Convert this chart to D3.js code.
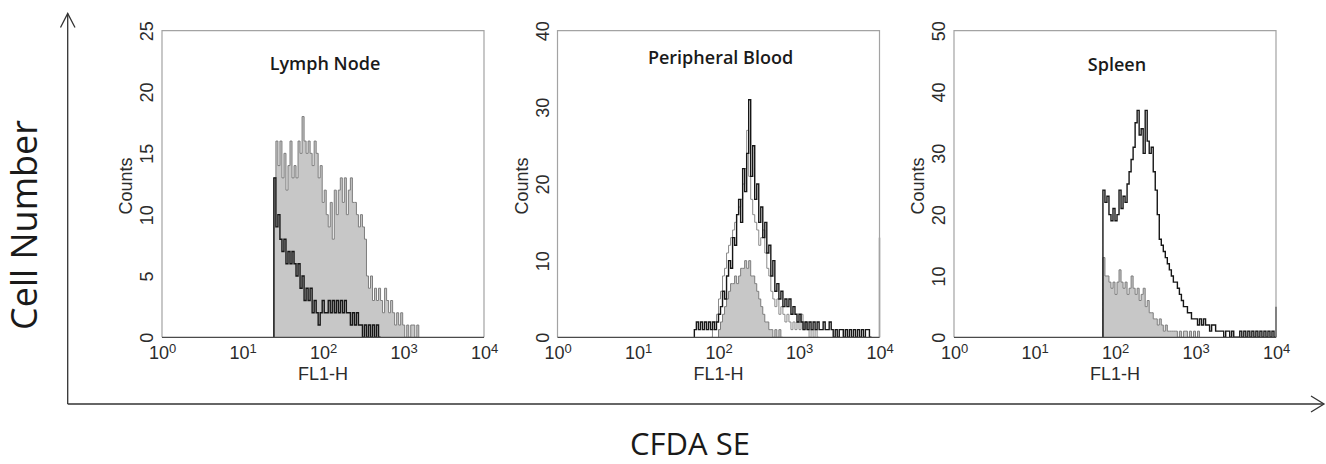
<!DOCTYPE html>
<html>
<head>
<meta charset="utf-8">
<script src="https://cdnjs.cloudflare.com/ajax/libs/d3/7.8.5/d3.min.js"></script>
<style>
    body { margin: 0; background: #fff; }
    svg { display: block; }
    .tick text, .axis-label { font-family: "Liberation Sans", Arial, sans-serif; fill: #2b2b2b; }
    .panel-title, .outer-label { font-family: "Open Sans", sans-serif; fill: #1a1a1a; }
</style>
</head>
<body>
<div id="chart"></div>
<script>
// histogram resolution (bins per decade of FL1-H)
const binsPerDecade = 40;

const panelTitles = ["Lymph Node", "Peripheral Blood", "Spleen"];
const yMaxes = [25, 40, 50];
const yTicksLN = [0, 5, 10, 15, 20, 25];
const yTicksPB = [0, 10, 20, 30, 40];
const yTicksSP = [0, 10, 20, 30, 40, 50];
const xTicks = [1, 10, 100, 1000, 10000];

// every series = log10 of its first bin edge + counts per bin
const lnGreyStart = 1.39;
const lnGrey = [13,16,14,16,13, 15,12,14,16,13, 14,13,16,15, 18, 16,15,16,15,14,16,15,
    13,14,11,12,10, 9,11,8,12,10, 12,13,11,13,10,12,13,11, 11,10,9,10,9, 8,5,4,5,3,4,
    3,4,3,2,4,3, 2,3,2,1,2,1, 2,1,0,1,0,1, 1,0,1];
const lnBlackStart = 1.39;
const lnBlack = [13,9,10,8,7,8,6,7,6,7, 6,5,6,4,5,3,4,3,4,2, 3,2,1,2,3,2,2,3,2,3,
    2,3,2,3,2,3,2,2,1,2, 1,2,1,1,0,1,0,1,0,1, 0,1,0];

const pbGreyStart = 2.0;
const pbGrey = [1,2,3,4,5,6,7,7,8,7, 8,9,9,10,9,10,8,8,7,6, 5,4,3,2,2,1,1,0,1,0, 1,0];
const pbGreyLineStart = 1.9;
const pbGreyLine = [0,1,2,3,5,6,8,9,11,12, 13,14,15,16,17,18,20,22,27,21, 18,16,15,14,12,13,14,11,9,8,
    6,5,4,5,3,4,3,2,3,2, 1,2,1,2,1,3,1,2,1,0, 1,0,1,0];
const pbBlackStart = 1.7;
const pbBlack = [1,2,1,2,1,2,1,2,1,2, 1,2,3,4,6,5,8,10,9,13, 12,16,18,15,22,19,24,31,21,25,
    18,20,15,17,13,15,11,12,8,10, 6,7,5,6,4,5,4,5,3,4, 3,2,3,2,1,2,1,2,1,2,
    1,2,1,1,2,1,1,2,1,0, 1,0,1,1,0,1,0,1,0,1, 0,1,0,1,0,1,1,0];
const pbEdge = 13;   // off-scale pile-up at 10^4 (grey)

const spGreyStart = 1.85;
const spGrey = [13,10,10,9,8,9,7,9,11,9, 8,9,7,8,10,8,7,8,6,7, 8,5,6,4,4,3,3,2,3,2,
    1,2,1,1,1,1,1,0,1,0, 1,1,0,1,0,1,0,1];
const spBlackStart = 1.85;
const spBlack = [24,22,23,20,19,21,19,20,24,21, 23,22,25,27,29,31,35,37,33,34,
    30,37,32,30,31,27,24,20,16,15, 14,13,12,11,10,9,9,8,7,6, 5,5,4,4,3,3,3,2,3,2,
    3,2,2,1,2,2,1,1,1,1, 0,1,1,0,1,0,0,0,1,0, 1,0,1,0,1,0,1,0,1,0, 1,0,1,0,1,0];
const spEdge = 5;    // off-scale pile-up at 10^4 (black)


class FlowHistogram {

    constructor(svg, opts) {
        this.svg = svg;
        Object.assign(this, opts);
        this.initVis();
    }

    initVis() {
        let vis = this;

        vis.g = vis.svg.append("g")
            .attr("transform", `translate(${vis.left}, ${vis.top})`);

        vis.x = d3.scaleLog().domain([1, 10000]).range([0, vis.width]);
        vis.y = d3.scaleLinear().domain([0, vis.yMax]).range([vis.height, 0]);

        // title
        vis.g.append("text")
            .attr("class", "panel-title")
            .attr("x", vis.width / 2 + 2)
            .attr("y", vis.titleY)
            .attr("text-anchor", "middle")
            .style("font-size", "18px")
            .style("font-weight", 600)
            .text(vis.title);

        // x axis with 10^n labels
        let xAxis = d3.axisBottom(vis.x).tickValues(xTicks).tickSize(0).tickPadding(9)
            .tickFormat(() => "10");
        let gx = vis.g.append("g")
            .attr("transform", `translate(0, ${vis.height})`)
            .call(xAxis);
        gx.select(".domain").remove();
        gx.selectAll(".tick text")
            .style("font-size", "18px")
            .append("tspan")
            .attr("dy", "-0.5em")
            .style("font-size", "13px")
            .text(d => Math.round(Math.log10(d)));

        // y axis, labels turned sideways
        let yAxis = d3.axisLeft(vis.y).tickValues(vis.yTicks).tickSize(0);
        let gy = vis.g.append("g").call(yAxis);
        gy.select(".domain").remove();
        gy.selectAll(".tick text")
            .attr("transform", "rotate(-90)")
            .attr("x", 0)
            .attr("y", -9)
            .attr("dy", 0)
            .attr("text-anchor", "middle")
            .style("font-size", "18px");

        vis.g.append("text")
            .attr("class", "axis-label")
            .attr("transform", `translate(-30, ${vis.height / 2 + 2}) rotate(-90)`)
            .attr("text-anchor", "middle")
            .style("font-size", "18px")
            .text("Counts");

        vis.g.append("text")
            .attr("class", "axis-label")
            .attr("x", vis.width / 2)
            .attr("y", vis.height + 43)
            .attr("text-anchor", "middle")
            .style("font-size", "18px")
            .text("FL1-H");

        this.updateVis();
    }

    steps(start, counts) {
        let pts = [[Math.pow(10, start), 0]];
        counts.forEach((c, i) => pts.push([Math.pow(10, start + i / binsPerDecade), c]));
        pts.push([Math.pow(10, start + counts.length / binsPerDecade), 0]);
        return pts;
    }

    updateVis() {
        let vis = this;

        let area = d3.area()
            .x(d => vis.x(d[0]))
            .y0(vis.y(0))
            .y1(d => vis.y(d[1]))
            .curve(d3.curveStepAfter);
        let line = d3.line()
            .x(d => vis.x(d[0]))
            .y(d => vis.y(d[1]))
            .curve(d3.curveStepAfter);

        vis.series.forEach(s => {
            let pts = vis.steps(s.start, s.counts);
            if (s.kind === "fill") {
                vis.g.append("path")
                    .attr("d", area(pts))
                    .attr("fill", "#c7c7c7");
                vis.g.append("path")
                    .attr("d", line(pts))
                    .attr("fill", "none")
                    .attr("stroke", "#7d7d7d")
                    .attr("stroke-width", 1);
            } else {
                vis.g.append("path")
                    .attr("d", line(pts))
                    .attr("fill", "none")
                    .attr("stroke", s.kind === "black" ? "#161616" : "#8a8a8a")
                    .attr("stroke-width", s.kind === "black" ? 1.4 : 1);
            }
        });

        if (vis.edge) {
            vis.g.append("line")
                .attr("x1", vis.x(10000)).attr("x2", vis.x(10000))
                .attr("y1", vis.y(0)).attr("y2", vis.y(vis.edge.value))
                .attr("stroke", vis.edge.color)
                .attr("stroke-width", 1.5);
        }

        // frame: light grey sides, darker baseline
        vis.g.append("path")
            .attr("d", `M0,${vis.height}V0H${vis.width}V${vis.height}`)
            .attr("fill", "none")
            .attr("stroke", "#a3a3a3")
            .attr("stroke-width", 1.2);
        vis.g.append("line")
            .attr("x1", 0).attr("x2", vis.width)
            .attr("y1", vis.height).attr("y2", vis.height)
            .attr("stroke", "#4a4a4a")
            .attr("stroke-width", 1.3);
    }
}


const W = 1326, H = 464;
const svg = d3.select("#chart").append("svg")
    .attr("width", W)
    .attr("height", H);

const panelLeft = [162, 557.5, 954];
const titleY = [39, 33, 40];
const panelSeries = [
    [{kind: "fill", start: lnGreyStart, counts: lnGrey},
     {kind: "black", start: lnBlackStart, counts: lnBlack}],
    [{kind: "fill", start: pbGreyStart, counts: pbGrey},
     {kind: "grey", start: pbGreyLineStart, counts: pbGreyLine},
     {kind: "black", start: pbBlackStart, counts: pbBlack}],
    [{kind: "fill", start: spGreyStart, counts: spGrey},
     {kind: "black", start: spBlackStart, counts: spBlack}]
];
const yTickSets = [yTicksLN, yTicksPB, yTicksSP];
const edges = [null, {value: pbEdge, color: "#8a8a8a"}, {value: spEdge, color: "#161616"}];

panelTitles.forEach((t, i) => {
    new FlowHistogram(svg, {
        left: panelLeft[i], top: 30.7, width: 322, height: 306.6,
        title: t, titleY: titleY[i], yMax: yMaxes[i], yTicks: yTickSets[i],
        series: panelSeries[i], edge: edges[i]
    });
});

// outer "Cell Number" / "CFDA SE" axes with open arrowheads
const outer = svg.append("g")
    .attr("fill", "none")
    .attr("stroke", "#333")
    .attr("stroke-width", 1.3);
outer.append("path").attr("d", "M67.7,404V13.5");
outer.append("path").attr("d", "M60.5,27.5L67.7,13.5L75,27.5");
outer.append("path").attr("d", "M67.7,404H1323");
outer.append("path").attr("d", "M1311,396L1324,404L1311,412");

svg.append("text")
    .attr("class", "outer-label")
    .attr("transform", "translate(37, 225) rotate(-90)")
    .attr("text-anchor", "middle")
    .style("font-size", "36px")
    .text("Cell Number");

svg.append("text")
    .attr("class", "outer-label")
    .attr("x", 690)
    .attr("y", 455)
    .attr("text-anchor", "middle")
    .style("font-size", "31px")
    .text("CFDA SE");
</script>
</body>
</html>
